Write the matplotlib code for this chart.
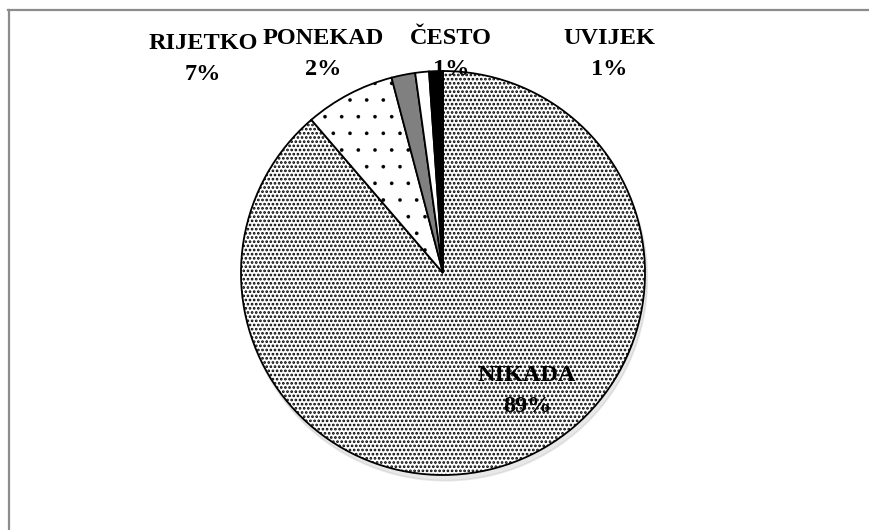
import matplotlib
matplotlib.use("Agg")
import matplotlib.pyplot as plt
from matplotlib.lines import Line2D

categories = ["NIKADA", "RIJETKO", "PONEKAD", "ČESTO", "UVIJEK"]
shares = [88.7, 7.2, 1.9, 1.1, 1.1]
pct_labels = ["89%", "7%", "2%", "1%", "1%"]

# styling per slice
face_colors = ["white", "white", "#808080", "white", "black"]
hatches = ["....", ".", None, None, None]
hatch_lw = [1.3, 0.2, 0, 0, 0]

# label centres in pixels (x, y from top)
label_pos = [(527, 391), (203, 59), (323, 54), (451, 54), (609, 54)]

W, H = 869, 530
fig = plt.figure(figsize=(W / 100, H / 100), dpi=100)

# pie axes: centre ~ (443, 273), radius ~ 202 px
r = 202
cx, cy = 443, 273
ax = fig.add_axes([(cx - r) / W, (H - cy - r) / H, 2 * r / W, 2 * r / H])

wedges, _ = ax.pie(
    shares,
    startangle=90,
    counterclock=False,
    colors=face_colors,
    radius=1.0,
    wedgeprops=dict(edgecolor="black", linewidth=1.3),
    shadow=dict(ox=0.008, oy=-0.02, shade=0.3, alpha=0.3),
)
for w, h, lw in zip(wedges, hatches, hatch_lw):
    if h:
        w.set_hatch(h)
        if hasattr(w, "set_hatch_linewidth"):
            w.set_hatch_linewidth(lw)

ax.set_xlim(-1, 1)
ax.set_ylim(-1, 1)
ax.set_aspect("equal")
ax.axis("off")

for name, pct, (px, py) in zip(categories, pct_labels, label_pos):
    fig.text(px / W, 1 - py / H, f"{name}\n{pct}", ha="center", va="center",
             fontsize=17.5, fontweight="bold", family="Liberation Serif",
             linespacing=1.65, color="black")

# chart area border (top and left visible)
fig.add_artist(Line2D([9 / W, 9 / W], [0, 1 - 10 / H], color="#8c8c8c", lw=1.6,
                      transform=fig.transFigure))
fig.add_artist(Line2D([8 / W, 1], [1 - 10 / H, 1 - 10 / H], color="#8c8c8c", lw=1.6,
                      transform=fig.transFigure))

fig.savefig("out.png", dpi=100)
